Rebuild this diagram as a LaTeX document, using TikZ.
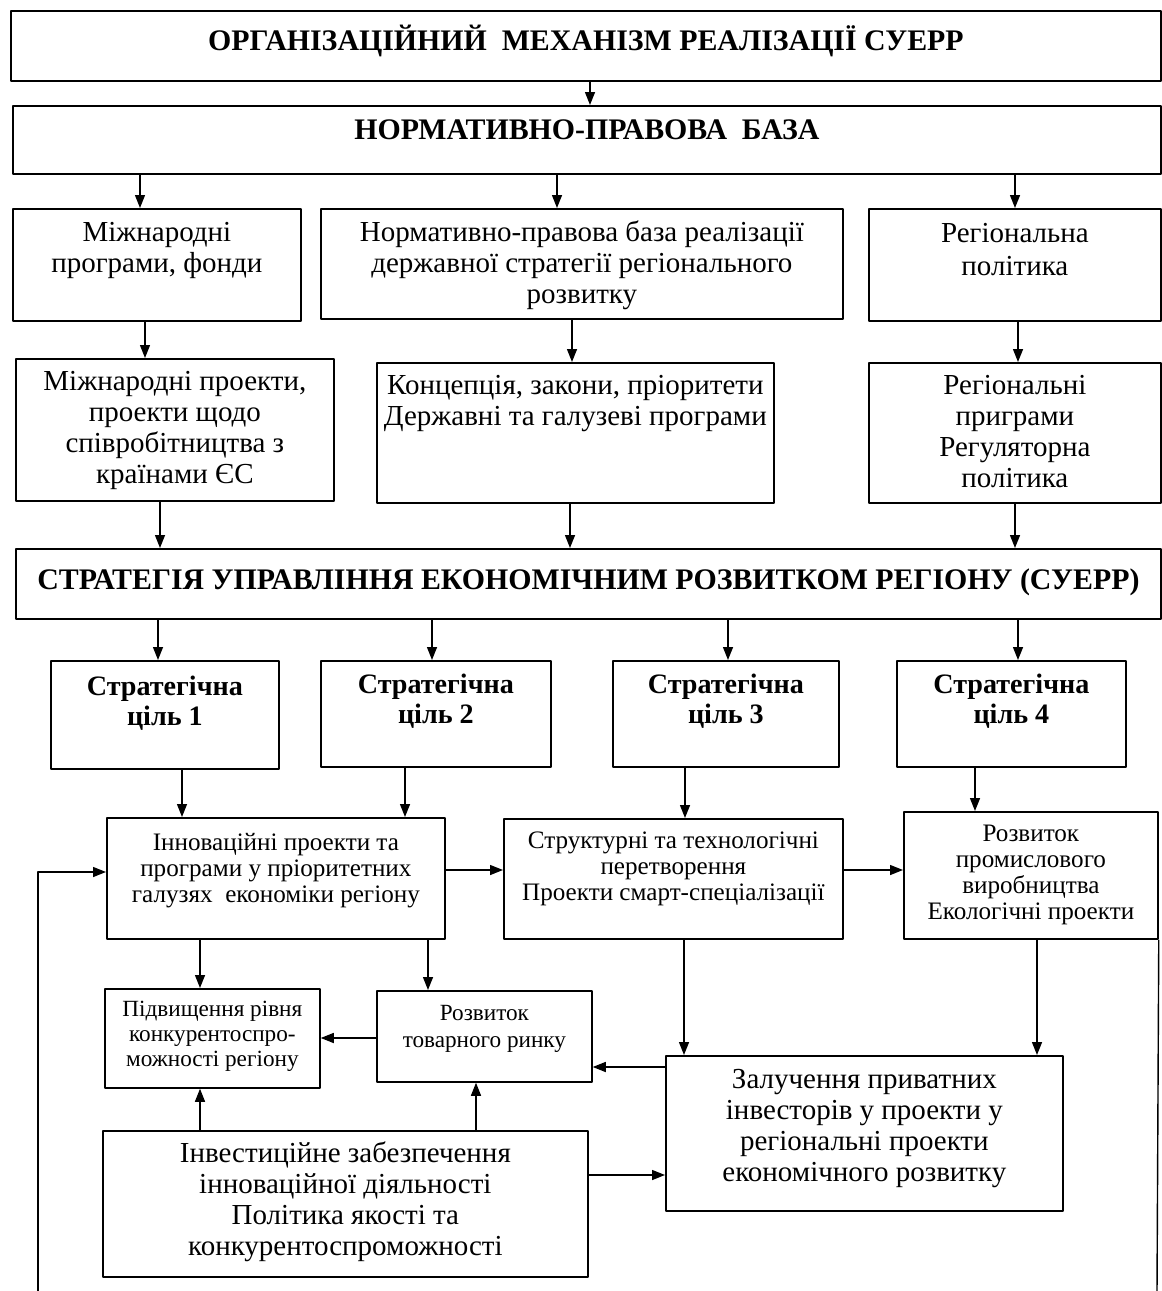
\documentclass[tikz,border=0pt]{standalone}
\usepackage{fontspec}
\setmainfont{Liberation Serif}
\usetikzlibrary{arrows.meta}
\newlength\pxl \setlength\pxl{0.02cm}
% box text: width, height, top pad (px), text
\newcommand{\bx}[4]{\parbox[c][#2\pxl][t]{#1\pxl}{\vspace*{#3\pxl}\centering\strut #4}}
\newcommand{\fhead}{\fontsize{17}{17.6}\selectfont\bfseries}
\newcommand{\fgoal}{\fontsize{16}{17.2}\selectfont\bfseries}
\newcommand{\fbig}{\fontsize{16.5}{17.6}\selectfont}
\newcommand{\fmid}{\fontsize{14.3}{14.9}\selectfont}
\newcommand{\fsml}{\fontsize{13.2}{14.2}\selectfont}
\tikzset{blk/.style={draw,line width=1pt,inner sep=0pt,anchor=north west,font=\fbig}}
\begin{document}
\begin{tikzpicture}[x=0.02cm,y=-0.02cm,>={Triangle[length=2.6mm,width=2mm]},line width=0.8pt,line join=round]
\useasboundingbox (0,0) rectangle (1161,1291);
% top levels
\node[blk,font=\fhead] (org) at (10,10) {\bx{1150}{70}{14}{ОРГАНІЗАЦІЙНИЙ\ \ МЕХАНІЗМ РЕАЛІЗАЦІЇ СУЕРР}};
\node[blk,font=\fhead] (npb) at (12,105) {\bx{1148}{68}{12}{НОРМАТИВНО-ПРАВОВА\ \ БАЗА}};
\node[blk] (mpf) at (12,208) {\bx{288}{112}{11}{Міжнародні\\програми, фонди}};
\node[blk] (npd) at (320,208) {\bx{522}{110}{11}{Нормативно-правова база реалізації\\державної стратегії регіонального\\розвитку}};
\node[blk] (rpl) at (868,208) {\bx{292}{112}{12}{Регіональна\\[2\pxl]політика}};
\node[blk] (mpr) at (15,358) {\bx{318}{142}{10}{Міжнародні проекти,\\проекти щодо\\співробітництва з\\країнами ЄС}};
\node[blk] (kzp) at (376,362) {\bx{397}{140}{10}{Концепція, закони, пріоритети\\Державні та галузеві програми}};
\node[blk] (rpr) at (868,362) {\bx{292}{140}{10}{Регіональні\\приграми\\Регуляторна\\політика}};
\node[blk,font=\fhead] (suerr) at (15,548) {\bx{1145}{70}{19}{СТРАТЕГІЯ УПРАВЛІННЯ ЕКОНОМІЧНИМ РОЗВИТКОМ РЕГІОНУ (СУЕРР)}};
% strategic goals
\node[blk,font=\fgoal] (sc1) at (50,660) {\bx{228}{108}{13}{Стратегічна\\ціль 1}};
\node[blk,font=\fgoal] (sc2) at (320,660) {\bx{230}{106}{11}{Стратегічна\\ціль 2}};
\node[blk,font=\fgoal] (sc3) at (612,660) {\bx{226}{106}{11}{Стратегічна\\ціль 3}};
\node[blk,font=\fgoal] (sc4) at (896,660) {\bx{229}{106}{11}{Стратегічна\\ціль 4}};
% projects
\node[blk,font=\fmid] (inp) at (106,817) {\bx{338}{121}{14}{Інноваційні проекти та\\програми у пріоритетних\\галузях\ \ економіки регіону}};
\node[blk,font=\fmid] (stp) at (503,818) {\bx{339}{120}{11}{Структурні та технологічні\\перетворення\\Проекти смарт-спеціалізації}};
\node[blk,font=\fmid] (rpv) at (903,811) {\bx{254}{127}{11}{Розвиток\\промислового\\виробництва\\Екологічні проекти}};
\node[blk,font=\fsml] (pkr) at (104,988) {\bx{215}{99}{10}{Підвищення рівня\\конкурентоспро-\\можності регіону}};
\node[blk,font=\fsml] (rtr) at (376,990) {\bx{215}{91}{12}{Розвиток\\[2\pxl]товарного ринку}};
\node[blk] (zpi) at (665,1055) {\bx{397}{155}{11}{Залучення приватних\\інвесторів у проекти у\\регіональні проекти\\економічного розвитку}};
\node[blk] (iz) at (102,1130) {\bx{485}{146}{10}{Інвестиційне забезпечення\\інноваційної діяльності\\Політика якості та\\конкурентоспроможності}};
\coordinate (fbl) at (38,1291);
\coordinate (fbr) at (1157,1291);
% arrows
\draw[->] (org.south -| 590,0) -- (npb.north -| 590,0);
\draw[->] (npb.south -| 140,0) -- (mpf.north -| 140,0);
\draw[->] (npb.south -| 557,0) -- (npd.north -| 557,0);
\draw[->] (npb.south -| 1015,0) -- (rpl.north -| 1015,0);
\draw[->] (mpf.south -| 145,0) -- (mpr.north -| 145,0);
\draw[->] (npd.south -| 572,0) -- (kzp.north -| 572,0);
\draw[->] (rpl.south -| 1018,0) -- (rpr.north -| 1018,0);
\draw[->] (mpr.south -| 160,0) -- (suerr.north -| 160,0);
\draw[->] (kzp.south -| 570,0) -- (suerr.north -| 570,0);
\draw[->] (rpr.south -| 1015,0) -- (suerr.north -| 1015,0);
\draw[->] (suerr.south -| 158,0) -- (sc1.north -| 158,0);
\draw[->] (suerr.south -| 432,0) -- (sc2.north -| 432,0);
\draw[->] (suerr.south -| 728,0) -- (sc3.north -| 728,0);
\draw[->] (suerr.south -| 1018,0) -- (sc4.north -| 1018,0);
\draw[->] (sc1.south -| 182,0) -- (inp.north -| 182,0);
\draw[->] (sc2.south -| 405,0) -- (inp.north -| 405,0);
\draw[->] (sc3.south -| 685,0) -- (stp.north -| 685,0);
\draw[->] (sc4.south -| 975,0) -- (rpv.north -| 975,0);
\draw[->] (inp.east |- 0,870) -- (stp.west |- 0,870);
\draw[->] (stp.east |- 0,870) -- (rpv.west |- 0,870);
\draw[->] (fbl) |- (inp.west |- 0,872);
\draw (rpv.south east) -- (fbr);
\draw[->] (inp.south -| 200,0) -- (pkr.north -| 200,0);
\draw[->] (inp.south -| 428,0) -- (rtr.north -| 428,0);
\draw[->] (rtr.west |- 0,1038) -- (pkr.east |- 0,1038);
\draw[->] (stp.south -| 684,0) -- (zpi.north -| 684,0);
\draw[->] (rpv.south -| 1037,0) -- (zpi.north -| 1037,0);
\draw[->] (zpi.west |- 0,1067) -- (rtr.east |- 0,1067);
\draw[->] (iz.north -| 200,0) -- (pkr.south -| 200,0);
\draw[->] (iz.north -| 476,0) -- (rtr.south -| 476,0);
\draw[->] (iz.east |- 0,1175) -- (zpi.west |- 0,1175);
\end{tikzpicture}
\end{document}
